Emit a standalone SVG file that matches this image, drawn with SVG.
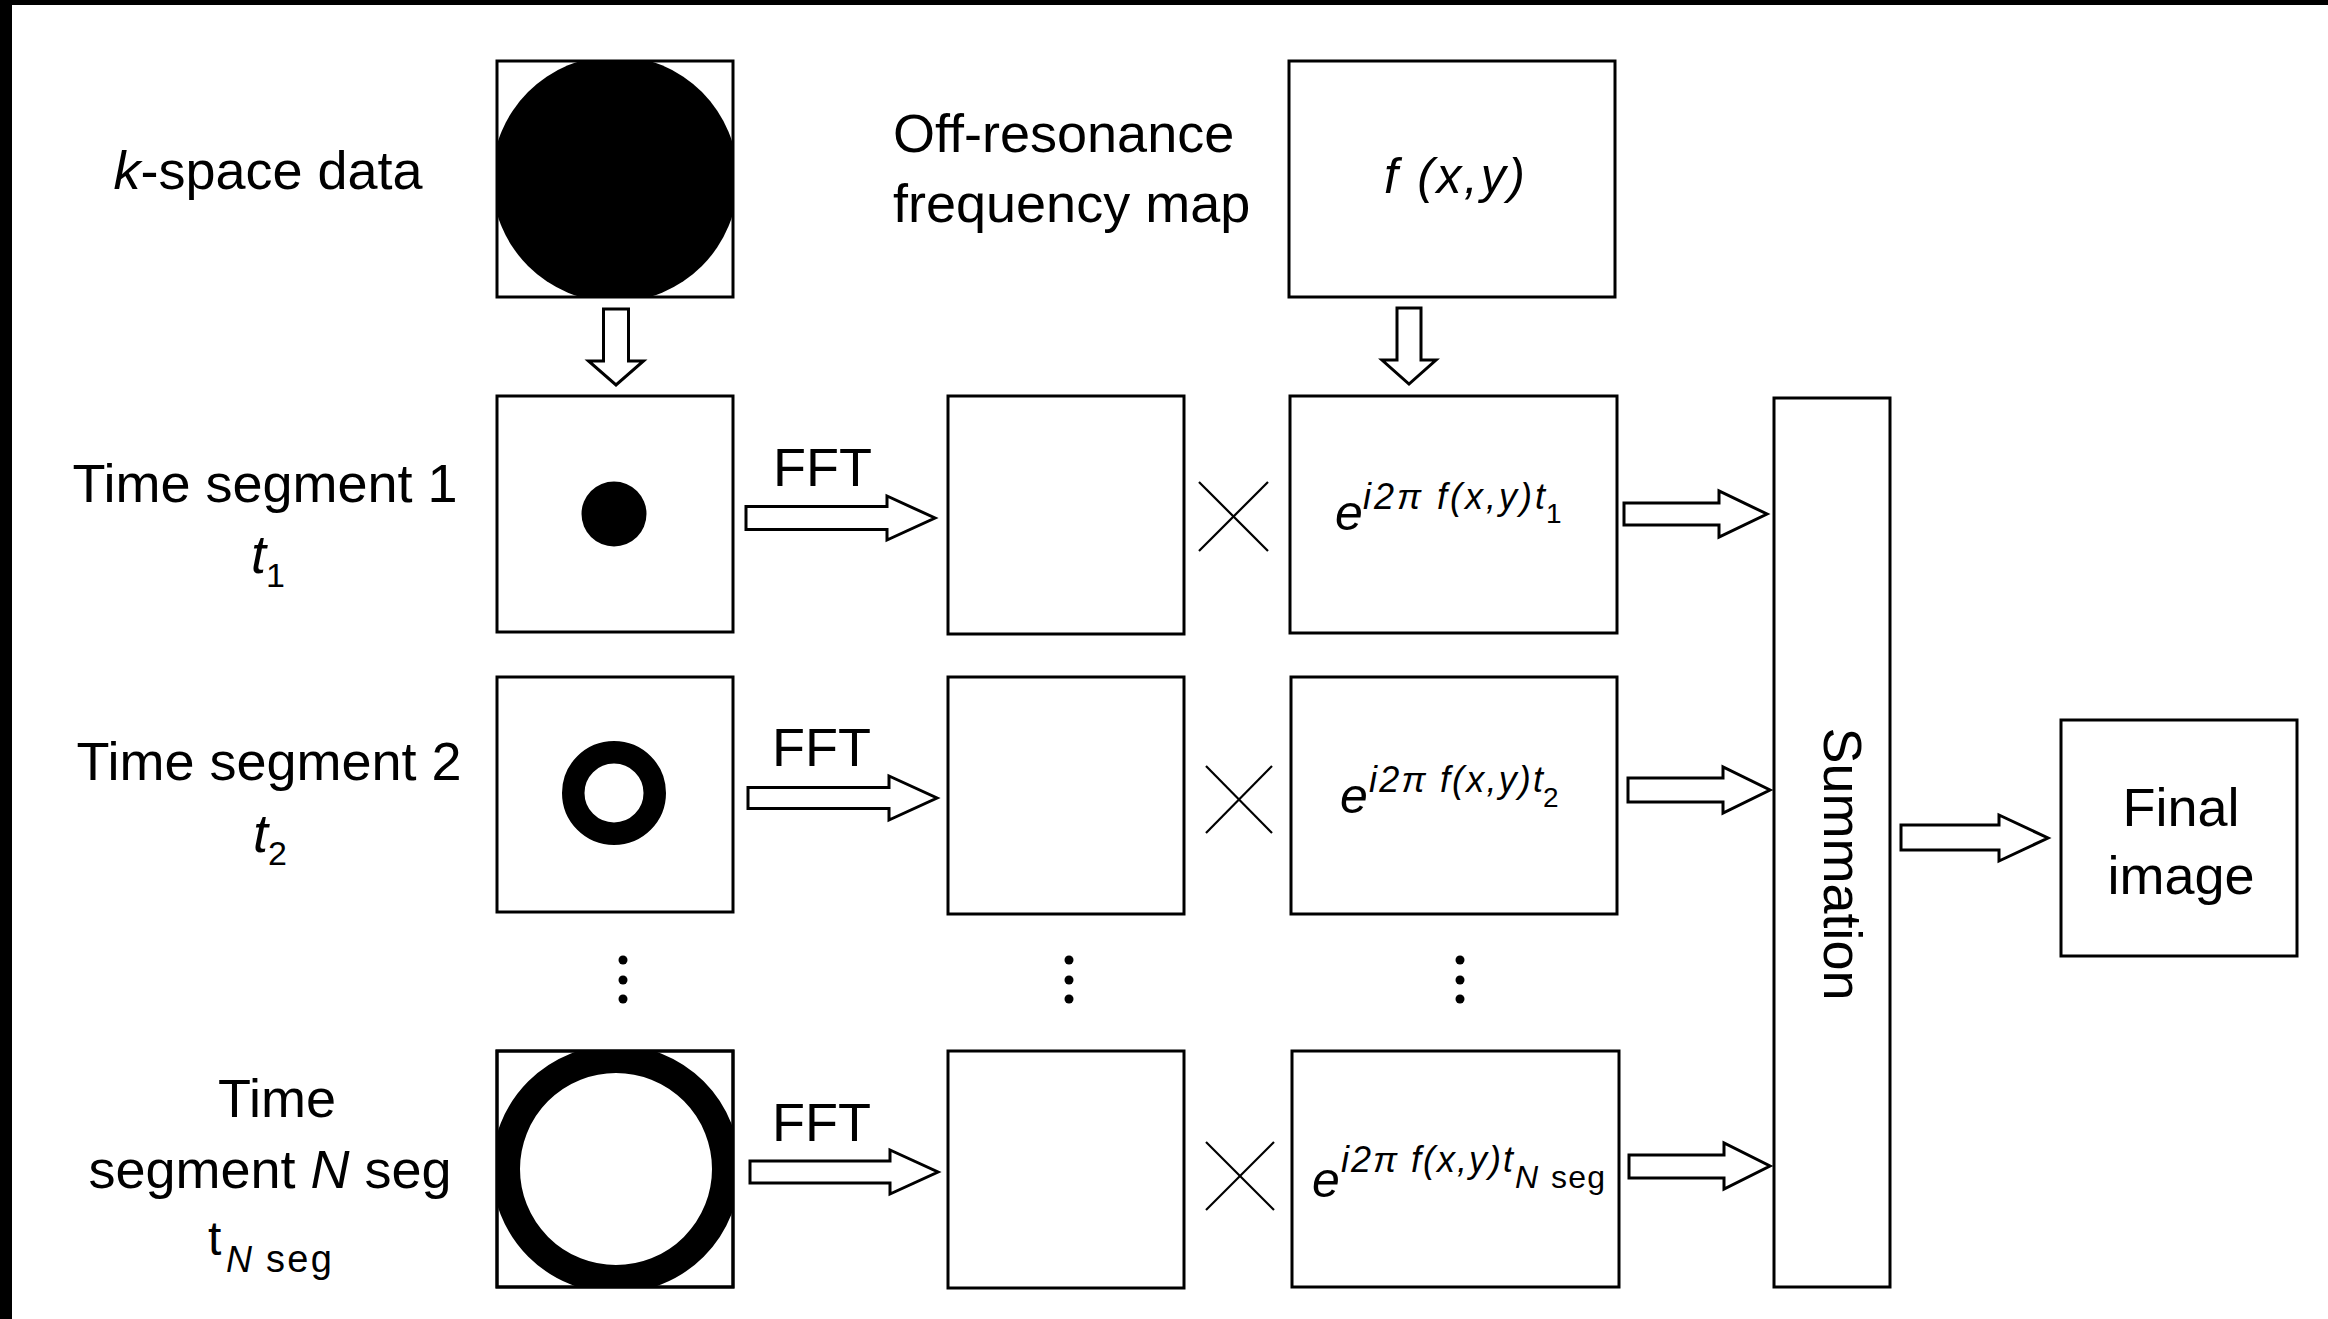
<svg xmlns="http://www.w3.org/2000/svg" width="2328" height="1319" viewBox="0 0 2328 1319">
<style>
.bx{fill:#fff;stroke:#000;stroke-width:3}
.ar{fill:#fff;stroke:#000;stroke-width:3;stroke-linejoin:miter}
.xm{stroke:#000;stroke-width:2.2;fill:none}
.t{font-family:"Liberation Sans",Arial,Helvetica,sans-serif;fill:#000}
.lb{font-size:54px}
.it{font-style:italic}
.dot{fill:#000}
</style>
<defs>
<clipPath id="cK"><rect x="497" y="61" width="236" height="236"/></clipPath>
<clipPath id="cN"><rect x="497" y="1051" width="236" height="236"/></clipPath>
</defs>
<rect x="0" y="0" width="2328" height="1319" fill="#fff"/>
<rect x="0" y="0" width="2328" height="5" fill="#000"/>
<rect x="0" y="0" width="12" height="1319" fill="#000"/>

<g id="label-kspace"><text class="t lb" x="268" y="189" text-anchor="middle"><tspan class="it">k</tspan>-space data</text></g>
<g id="label-offres">
<text class="t lb" x="893" y="152">Off-resonance</text>
<text class="t lb" x="893" y="222">frequency map</text>
</g>
<g id="label-ts1">
<text class="t lb" x="265" y="502" text-anchor="middle">Time segment 1</text>
<text class="t lb" x="268" y="573" text-anchor="middle"><tspan class="it">t</tspan><tspan font-size="34" dy="14">1</tspan></text>
</g>
<g id="label-ts2">
<text class="t lb" x="269" y="780" text-anchor="middle">Time segment 2</text>
<text class="t lb" x="270" y="852" text-anchor="middle"><tspan class="it">t</tspan><tspan font-size="34" dy="13">2</tspan></text>
</g>
<g id="label-tsN">
<text class="t lb" x="277" y="1117" text-anchor="middle">Time</text>
<text class="t lb" x="270" y="1188" text-anchor="middle">segment <tspan class="it">N</tspan> seg</text>
<text class="t" font-size="48" x="208" y="1255">t</text>
<text class="t it" font-size="36" x="226" y="1272">N</text>
<text class="t" font-size="38" x="266" y="1272" textLength="66" lengthAdjust="spacing">seg</text>
</g>

<g id="kspace">
<rect class="bx" x="497" y="61" width="236" height="236"/>
<circle cx="615" cy="179" r="123" fill="#000" clip-path="url(#cK)"/>
</g>
<g id="fmap">
<rect class="bx" x="1289" y="61" width="326" height="236"/>
<text class="t it" font-size="50" x="1384" y="193" textLength="141" lengthAdjust="spacing">f (x,y)</text>
</g>

<g id="ts1">
<rect class="bx" x="497" y="396" width="236" height="236"/>
<circle cx="614" cy="514" r="32.5" fill="#000"/>
</g>
<g id="ts2">
<rect class="bx" x="497" y="677" width="236" height="235"/>
<circle cx="614" cy="793" r="40.75" fill="none" stroke="#000" stroke-width="22.5"/>
</g>
<g id="tsN">
<rect class="bx" x="497" y="1051" width="236" height="236"/>
<circle cx="616" cy="1169" r="110" fill="none" stroke="#000" stroke-width="28" clip-path="url(#cN)"/>
<rect x="497" y="1051" width="236" height="236" fill="none" stroke="#000" stroke-width="3"/>
</g>

<g id="img1"><rect class="bx" x="948" y="396" width="236" height="238"/></g>
<g id="img2"><rect class="bx" x="948" y="677" width="236" height="237"/></g>
<g id="imgN"><rect class="bx" x="948" y="1051" width="236" height="237"/></g>

<g id="phase1">
<rect class="bx" x="1290" y="396" width="327" height="237"/>
<text class="t it" font-size="50" x="1335" y="530">e</text>
<text class="t it" font-size="36" x="1363" y="509" textLength="182" lengthAdjust="spacing">i2π f(x,y)t</text>
<text class="t" font-size="28" x="1546" y="523">1</text>
</g>
<g id="phase2">
<rect class="bx" x="1291" y="677" width="326" height="237"/>
<text class="t it" font-size="50" x="1340" y="813">e</text>
<text class="t it" font-size="36" x="1369" y="792" textLength="174" lengthAdjust="spacing">i2π f(x,y)t</text>
<text class="t" font-size="28" x="1543" y="807">2</text>
</g>
<g id="phaseN">
<rect class="bx" x="1292" y="1051" width="327" height="236"/>
<text class="t it" font-size="50" x="1312" y="1197">e</text>
<text class="t it" font-size="36" x="1341" y="1172" textLength="172" lengthAdjust="spacing">i2π f(x,y)t</text>
<text class="t it" font-size="32" x="1515" y="1188">N</text>
<text class="t" font-size="32" x="1551" y="1188" textLength="54" lengthAdjust="spacing">seg</text>
</g>

<g id="summation">
<rect class="bx" x="1774" y="398" width="116" height="889"/>
<text class="t lb" transform="translate(1824,864) rotate(90)" x="0" y="0" text-anchor="middle">Summation</text>
</g>
<g id="final">
<rect class="bx" x="2061" y="720" width="236" height="236"/>
<text class="t lb" x="2181" y="826" text-anchor="middle">Final</text>
<text class="t lb" x="2181" y="894" text-anchor="middle">image</text>
</g>

<g id="connectors">
<polygon class="ar" points="603.5,309 628.5,309 628.5,361 643.5,361 616,385 588.5,361 603.5,361"/>
<polygon class="ar" points="1397,308 1421,308 1421,360 1436,360 1409,384 1382,360 1397,360"/>

<polygon class="ar" points="746,506.5 887,506.5 887,496 935,518 887,540 887,529.5 746,529.5"/>
<polygon class="ar" points="748,787.5 889,787.5 889,776 937,798 889,820 889,808.5 748,808.5"/>
<polygon class="ar" points="750,1161 890,1161 890,1150 938,1172 890,1194 890,1183 750,1183"/>

<text class="t lb" x="773" y="486">FFT</text>
<text class="t lb" x="772" y="766">FFT</text>
<text class="t lb" x="772" y="1141">FFT</text>

<line class="xm" x1="1199" y1="482" x2="1268" y2="551"/>
<line class="xm" x1="1268" y1="482" x2="1199" y2="551"/>
<line class="xm" x1="1206" y1="766" x2="1272" y2="833"/>
<line class="xm" x1="1272" y1="766" x2="1206" y2="833"/>
<line class="xm" x1="1206" y1="1142" x2="1274" y2="1210"/>
<line class="xm" x1="1274" y1="1142" x2="1206" y2="1210"/>

<polygon class="ar" points="1624,503 1719,503 1719,491 1767,514 1719,537 1719,525 1624,525"/>
<polygon class="ar" points="1628,778 1723,778 1723,767 1770,790 1723,813 1723,802 1628,802"/>
<polygon class="ar" points="1629,1155 1724,1155 1724,1143 1770,1166 1724,1189 1724,1178 1629,1178"/>
<polygon class="ar" points="1901,825 1999,825 1999,815 2048,838 1999,861 1999,850 1901,850"/>

<circle class="dot" cx="623" cy="960" r="4.5"/>
<circle class="dot" cx="623" cy="980" r="4.5"/>
<circle class="dot" cx="623" cy="999" r="4.5"/>
<circle class="dot" cx="1069" cy="960" r="4.5"/>
<circle class="dot" cx="1069" cy="980" r="4.5"/>
<circle class="dot" cx="1069" cy="999" r="4.5"/>
<circle class="dot" cx="1460" cy="960" r="4.5"/>
<circle class="dot" cx="1460" cy="980" r="4.5"/>
<circle class="dot" cx="1460" cy="999" r="4.5"/>
</g>
</svg>
